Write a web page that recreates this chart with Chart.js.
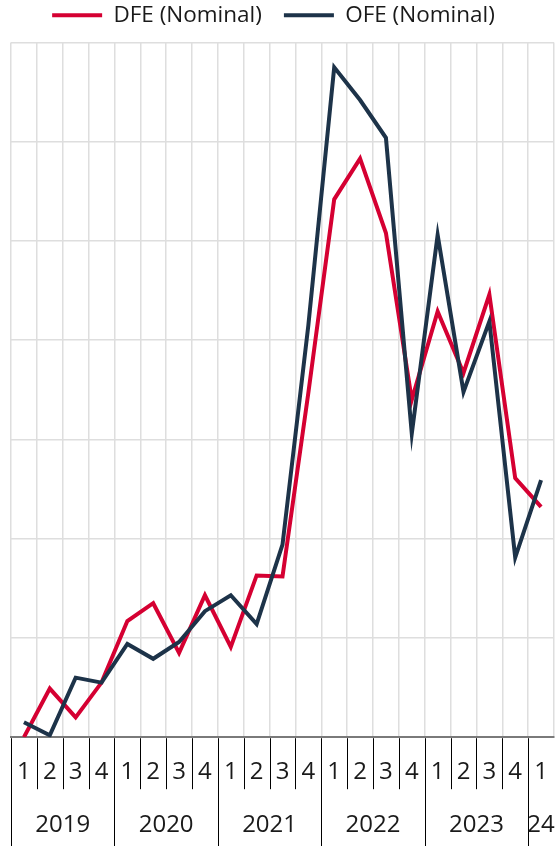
<!DOCTYPE html>
<html>
<head>
<meta charset="utf-8">
<script src="https://cdn.jsdelivr.net/npm/chart.js@4.4.1/dist/chart.umd.min.js"></script>
<style>
  html, body { margin: 0; padding: 0; background: #ffffff; overflow: hidden; }
  #wrap { width: 555px; height: 846px; position: relative; }
  canvas { display: block; }
</style>
</head>
<body>
<div id="wrap"><canvas id="feChart"></canvas></div>
<script>
// quarter labels (2019 Q1 .. 2024 Q1)
const quarterLabels = ["1", "2", "3", "4", "1", "2", "3", "4", "1", "2", "3", "4",
                       "1", "2", "3", "4", "1", "2", "3", "4", "1"];
// year groups under the quarters
const yearLabels = ["2019", "2020", "2021", "2022", "2023", "24"];
const yearQuarterCounts = [4, 4, 4, 4, 4, 1];

// series values (no y scale printed, read in grid units)
const dfeValues = [0.00, 0.49, 0.20, 0.55, 1.17, 1.35, 0.85, 1.43, 0.91, 1.63, 1.62,
                   3.47, 5.42, 5.83, 5.08, 3.40, 4.29, 3.67, 4.46, 2.61, 2.32];
const ofeValues = [0.15, 0.02, 0.60, 0.55, 0.94, 0.79, 0.96, 1.27, 1.43, 1.14, 1.94,
                   4.15, 6.75, 6.42, 6.04, 3.06, 5.06, 3.48, 4.19, 1.81, 2.59];

const FONT = "'Open Sans', 'Noto Sans', sans-serif";

// draws the quarter / year separators and the year row below the x axis
const yearAxisPlugin = {
    id: "yearAxis",
    afterDraw(chart) {
        const ctx = chart.ctx;
        const x = chart.scales.x;
        const area = chart.chartArea;
        const half = (x.getPixelForValue(1) - x.getPixelForValue(0)) / 2;
        const bottom = chart.height;

        ctx.save();
        ctx.strokeStyle = "#000000";
        ctx.lineWidth = 1;

        // separator lines, long ones at year borders (none at the far right edge)
        let boundaries = [0];
        yearQuarterCounts.reduce((acc, n) => { boundaries.push(acc + n); return acc + n; }, 0);
        for (let i = 0; i < quarterLabels.length; i++) {
            const px = Math.round(x.getPixelForValue(i) - half) + 0.5;
            const isYear = boundaries.includes(i);
            ctx.beginPath();
            ctx.moveTo(px, area.bottom + 1);
            ctx.lineTo(px, isYear ? bottom : area.bottom + 52);
            ctx.stroke();
        }

        // year text centred under its quarters
        ctx.fillStyle = "#1a1a1a";
        ctx.font = "24px " + FONT;
        ctx.textAlign = "center";
        ctx.textBaseline = "middle";
        let start = 0;
        yearLabels.forEach((yr, k) => {
            const n = yearQuarterCounts[k];
            const left = x.getPixelForValue(start) - half;
            const right = x.getPixelForValue(start + n - 1) + half;
            ctx.fillText(yr, (left + right) / 2, 825);
            start += n;
        });
        ctx.restore();
    }
};

// legend: a bit more room under it and nudged left like the original
const legendSpacing = {
    id: "legendSpacing",
    beforeLayout(chart) {
        const legend = chart.legend;
        if (!legend || legend._patched) return;
        const origFit = legend.fit;
        legend.fit = function () {
            origFit.call(this);
            this.height += 6;
            this.lineWidths = this.lineWidths.map(w => w + 18);
        };
        legend._patched = true;
    }
};

const ctx = document.getElementById("feChart").getContext("2d");

new Chart(ctx, {
    type: "line",
    data: {
        labels: quarterLabels,
        datasets: [
            {
                label: "DFE (Nominal)",
                data: dfeValues,
                borderColor: "#d50032",
                backgroundColor: "#d50032",
                borderWidth: 4,
                pointRadius: 0,
                tension: 0,
                order: 1
            },
            {
                label: "OFE (Nominal)",
                data: ofeValues,
                borderColor: "#1d3349",
                backgroundColor: "#1d3349",
                borderWidth: 4,
                pointRadius: 0,
                tension: 0,
                order: 0 // navy line sits on top
            }
        ]
    },
    options: {
        responsive: true,
        maintainAspectRatio: false,
        animation: false,
        layout: {
            padding: { top: -18, left: 11, right: 1, bottom: 59 }
        },
        plugins: {
            legend: {
                position: "top",
                align: "center",
                labels: {
                    usePointStyle: true,
                    pointStyle: "line",
                    pointStyleWidth: 50,
                    padding: 22,
                    color: "#1a1a1a",
                    font: { family: FONT, size: 22.5 },
                    sort: (a, b) => a.datasetIndex - b.datasetIndex
                }
            },
            tooltip: { enabled: false }
        },
        scales: {
            x: {
                offset: true,
                grid: {
                    offset: true,
                    color: "#dedede",
                    lineWidth: 1.5,
                    drawTicks: true,
                    tickLength: 21,
                    tickColor: "rgba(0,0,0,0)"
                },
                border: { display: true, color: "#7a7a7a", width: 2 },
                ticks: {
                    padding: 0,
                    maxRotation: 0,
                    autoSkip: false,
                    color: "#1a1a1a",
                    font: { family: FONT, size: 24 }
                }
            },
            y: {
                min: 0,
                max: 7,
                ticks: { display: false, stepSize: 1 },
                grid: { color: "#dedede", lineWidth: 1.5, drawTicks: false },
                border: { display: false }
            }
        }
    },
    plugins: [yearAxisPlugin, legendSpacing]
});
</script>
</body>
</html>
